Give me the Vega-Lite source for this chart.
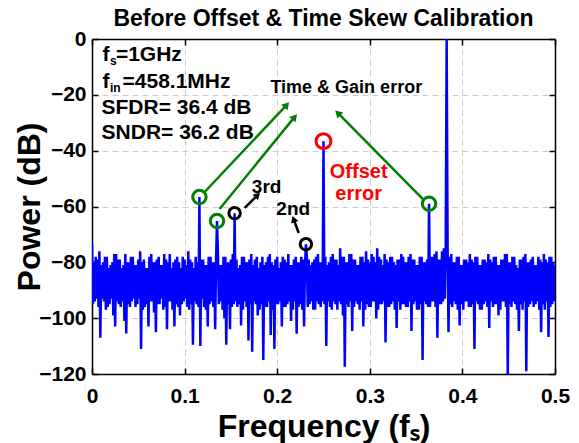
{
 "$schema": "https://vega.github.io/schema/vega-lite/v6.json",
 "width": 463, "height": 335,
 "autosize": {"type": "none"},
 "padding": {"left": 92, "top": 39, "right": 24, "bottom": 69},
 "background": "white",
 "title": {"text": "Before Offset & Time Skew Calibration", "font": "Liberation Sans", "fontSize": 23, "fontWeight": "bold", "color": "black", "anchor": "middle", "offset": -3},
 "config": {"view": {"stroke": null}, "font": "Liberation Sans"},
 "resolve": {"axis": {"x": "independent", "y": "independent"}},
 "datasets": {
  "spec": [
{"f":0.000,"p":-73},{"f":0.001,"p":-95},{"f":0.002,"p":-80},{"f":0.003,"p":-94},
{"f":0.004,"p":-78},{"f":0.005,"p":-93},{"f":0.006,"p":-79},{"f":0.007,"p":-96},
{"f":0.008,"p":-76},{"f":0.009,"p":-107},{"f":0.010,"p":-81},{"f":0.011,"p":-93},
{"f":0.012,"p":-80},{"f":0.013,"p":-94},{"f":0.014,"p":-78},{"f":0.015,"p":-97},
{"f":0.016,"p":-78},{"f":0.017,"p":-96},{"f":0.018,"p":-82},{"f":0.019,"p":-95},
{"f":0.020,"p":-81},{"f":0.021,"p":-93},{"f":0.022,"p":-80},{"f":0.023,"p":-99},
{"f":0.024,"p":-77},{"f":0.025,"p":-103},{"f":0.026,"p":-77},{"f":0.027,"p":-94},
{"f":0.028,"p":-79},{"f":0.029,"p":-95},{"f":0.030,"p":-79},{"f":0.031,"p":-96},
{"f":0.032,"p":-82},{"f":0.033,"p":-94},{"f":0.034,"p":-81},{"f":0.035,"p":-101},
{"f":0.036,"p":-77},{"f":0.037,"p":-105.5},{"f":0.038,"p":-80},{"f":0.039,"p":-95},
{"f":0.040,"p":-80},{"f":0.041,"p":-96},{"f":0.042,"p":-78},{"f":0.043,"p":-94},
{"f":0.044,"p":-78},{"f":0.045,"p":-93},{"f":0.046,"p":-81},{"f":0.047,"p":-96},
{"f":0.048,"p":-81},{"f":0.049,"p":-95},{"f":0.050,"p":-79},{"f":0.051,"p":-93},
{"f":0.052,"p":-76},{"f":0.053,"p":-111},{"f":0.054,"p":-80},{"f":0.055,"p":-97},
{"f":0.056,"p":-79},{"f":0.057,"p":-96},{"f":0.058,"p":-82},{"f":0.059,"p":-95},
{"f":0.060,"p":-82},{"f":0.061,"p":-103},{"f":0.062,"p":-78},{"f":0.063,"p":-94},
{"f":0.064,"p":-77},{"f":0.065,"p":-94},{"f":0.066,"p":-80},{"f":0.067,"p":-98},
{"f":0.068,"p":-80},{"f":0.069,"p":-105},{"f":0.070,"p":-79},{"f":0.071,"p":-95},
{"f":0.072,"p":-78},{"f":0.073,"p":-95},{"f":0.074,"p":-81},{"f":0.075,"p":-93},
{"f":0.076,"p":-81},{"f":0.077,"p":-97},{"f":0.078,"p":-77},{"f":0.079,"p":-96},
{"f":0.080,"p":-79},{"f":0.081,"p":-104},{"f":0.082,"p":-80},{"f":0.083,"p":-94},
{"f":0.084,"p":-77},{"f":0.085,"p":-94},{"f":0.086,"p":-82},{"f":0.087,"p":-97},
{"f":0.088,"p":-80},{"f":0.089,"p":-103},{"f":0.090,"p":-79},{"f":0.091,"p":-95},
{"f":0.092,"p":-78},{"f":0.093,"p":-96},{"f":0.094,"p":-80},{"f":0.095,"p":-99},
{"f":0.096,"p":-82},{"f":0.097,"p":-95},{"f":0.098,"p":-78},{"f":0.099,"p":-94},
{"f":0.100,"p":-79},{"f":0.101,"p":-93},{"f":0.102,"p":-81},{"f":0.103,"p":-96},
{"f":0.104,"p":-76},{"f":0.105,"p":-97},{"f":0.106,"p":-79},{"f":0.107,"p":-95},
{"f":0.108,"p":-80},{"f":0.109,"p":-109.5},{"f":0.110,"p":-82},{"f":0.111,"p":-94},
{"f":0.112,"p":-78},{"f":0.113,"p":-95},{"f":0.114,"p":-80},{"f":0.115,"p":-96},
{"f":0.116,"p":-56.6},{"f":0.117,"p":-110},{"f":0.118,"p":-79},{"f":0.119,"p":-93},
{"f":0.120,"p":-79},{"f":0.121,"p":-96},{"f":0.122,"p":-81},{"f":0.123,"p":-97},
{"f":0.124,"p":-81},{"f":0.125,"p":-103},{"f":0.126,"p":-78},{"f":0.127,"p":-95},
{"f":0.128,"p":-78},{"f":0.129,"p":-94},{"f":0.130,"p":-80},{"f":0.131,"p":-96},
{"f":0.132,"p":-80},{"f":0.133,"p":-104},{"f":0.134,"p":-79},{"f":0.135,"p":-65.2},
{"f":0.136,"p":-77},{"f":0.137,"p":-95},{"f":0.138,"p":-81},{"f":0.139,"p":-94},
{"f":0.140,"p":-81},{"f":0.141,"p":-97},{"f":0.142,"p":-78},{"f":0.143,"p":-100},
{"f":0.144,"p":-78},{"f":0.145,"p":-109.5},{"f":0.146,"p":-80},{"f":0.147,"p":-95},
{"f":0.148,"p":-80},{"f":0.149,"p":-104},{"f":0.150,"p":-79},{"f":0.151,"p":-96},
{"f":0.152,"p":-77},{"f":0.153,"p":-95},{"f":0.154,"p":-62.4},{"f":0.155,"p":-94},
{"f":0.156,"p":-79},{"f":0.157,"p":-96},{"f":0.158,"p":-82},{"f":0.159,"p":-95},
{"f":0.160,"p":-81},{"f":0.161,"p":-102.6},{"f":0.162,"p":-78},{"f":0.163,"p":-97},
{"f":0.164,"p":-78},{"f":0.165,"p":-94},{"f":0.166,"p":-80},{"f":0.167,"p":-96},
{"f":0.168,"p":-80},{"f":0.169,"p":-108},{"f":0.170,"p":-79},{"f":0.171,"p":-95},
{"f":0.172,"p":-77},{"f":0.173,"p":-112},{"f":0.174,"p":-81},{"f":0.175,"p":-94},
{"f":0.176,"p":-79},{"f":0.177,"p":-95},{"f":0.178,"p":-78},{"f":0.179,"p":-99},
{"f":0.180,"p":-82},{"f":0.181,"p":-97},{"f":0.182,"p":-80},{"f":0.183,"p":-95},
{"f":0.184,"p":-78},{"f":0.185,"p":-115},{"f":0.186,"p":-81},{"f":0.187,"p":-96},
{"f":0.188,"p":-80},{"f":0.189,"p":-96},{"f":0.190,"p":-78},{"f":0.191,"p":-94},
{"f":0.192,"p":-77},{"f":0.193,"p":-106},{"f":0.194,"p":-80},{"f":0.195,"p":-97},
{"f":0.196,"p":-81},{"f":0.197,"p":-111},{"f":0.198,"p":-79},{"f":0.199,"p":-95},
{"f":0.200,"p":-78},{"f":0.201,"p":-95},{"f":0.202,"p":-82},{"f":0.203,"p":-94},
{"f":0.204,"p":-80},{"f":0.205,"p":-103},{"f":0.206,"p":-78},{"f":0.207,"p":-96},
{"f":0.208,"p":-79},{"f":0.209,"p":-96},{"f":0.210,"p":-80},{"f":0.211,"p":-95},
{"f":0.212,"p":-77},{"f":0.213,"p":-94},{"f":0.214,"p":-81},{"f":0.215,"p":-101},
{"f":0.216,"p":-81},{"f":0.217,"p":-97},{"f":0.218,"p":-79},{"f":0.219,"p":-94},
{"f":0.220,"p":-78},{"f":0.221,"p":-105.6},{"f":0.222,"p":-80},{"f":0.223,"p":-96},
{"f":0.224,"p":-80},{"f":0.225,"p":-95},{"f":0.226,"p":-78},{"f":0.227,"p":-97},
{"f":0.228,"p":-79},{"f":0.229,"p":-103},{"f":0.230,"p":-81},{"f":0.231,"p":-73.5},
{"f":0.232,"p":-78},{"f":0.233,"p":-96},{"f":0.234,"p":-79},{"f":0.235,"p":-95},
{"f":0.236,"p":-81},{"f":0.237,"p":-94},{"f":0.238,"p":-80},{"f":0.239,"p":-97},
{"f":0.240,"p":-79},{"f":0.241,"p":-97},{"f":0.242,"p":-78},{"f":0.243,"p":-94},
{"f":0.244,"p":-77},{"f":0.245,"p":-95},{"f":0.246,"p":-80},{"f":0.247,"p":-96},
{"f":0.248,"p":-80},{"f":0.249,"p":-94},{"f":0.250,"p":-36.6},{"f":0.251,"p":-95},
{"f":0.252,"p":-78},{"f":0.253,"p":-110},{"f":0.254,"p":-81},{"f":0.255,"p":-94},
{"f":0.256,"p":-80},{"f":0.257,"p":-96},{"f":0.258,"p":-78},{"f":0.259,"p":-97},
{"f":0.260,"p":-77},{"f":0.261,"p":-94},{"f":0.262,"p":-79},{"f":0.263,"p":-95},
{"f":0.264,"p":-79},{"f":0.265,"p":-97},{"f":0.266,"p":-81},{"f":0.267,"p":-94},
{"f":0.268,"p":-75},{"f":0.269,"p":-95},{"f":0.270,"p":-78},{"f":0.271,"p":-99},
{"f":0.272,"p":-78},{"f":0.273,"p":-117.4},{"f":0.274,"p":-80},{"f":0.275,"p":-95},
{"f":0.276,"p":-80},{"f":0.277,"p":-96},{"f":0.278,"p":-77},{"f":0.279,"p":-94},
{"f":0.280,"p":-77},{"f":0.281,"p":-104.6},{"f":0.282,"p":-79},{"f":0.283,"p":-96},
{"f":0.284,"p":-79},{"f":0.285,"p":-94},{"f":0.286,"p":-81},{"f":0.287,"p":-95},
{"f":0.288,"p":-81},{"f":0.289,"p":-97},{"f":0.290,"p":-78},{"f":0.291,"p":-94},
{"f":0.292,"p":-78},{"f":0.293,"p":-103},{"f":0.294,"p":-80},{"f":0.295,"p":-97},
{"f":0.296,"p":-76},{"f":0.297,"p":-95},{"f":0.298,"p":-79},{"f":0.299,"p":-96},
{"f":0.300,"p":-80},{"f":0.301,"p":-96},{"f":0.302,"p":-77},{"f":0.303,"p":-94},
{"f":0.304,"p":-78},{"f":0.305,"p":-94},{"f":0.306,"p":-80},{"f":0.307,"p":-100},
{"f":0.308,"p":-75},{"f":0.309,"p":-97},{"f":0.310,"p":-78},{"f":0.311,"p":-95},
{"f":0.312,"p":-79},{"f":0.313,"p":-95},{"f":0.314,"p":-81},{"f":0.315,"p":-94},
{"f":0.316,"p":-77},{"f":0.317,"p":-108.7},{"f":0.318,"p":-79},{"f":0.319,"p":-96},
{"f":0.320,"p":-80},{"f":0.321,"p":-96},{"f":0.322,"p":-78},{"f":0.323,"p":-95},
{"f":0.324,"p":-78},{"f":0.325,"p":-94},{"f":0.326,"p":-80},{"f":0.327,"p":-97},
{"f":0.328,"p":-81},{"f":0.329,"p":-103.5},{"f":0.330,"p":-79},{"f":0.331,"p":-94},
{"f":0.332,"p":-79},{"f":0.333,"p":-97},{"f":0.334,"p":-77},{"f":0.335,"p":-95},
{"f":0.336,"p":-78},{"f":0.337,"p":-95},{"f":0.338,"p":-80},{"f":0.339,"p":-96},
{"f":0.340,"p":-80},{"f":0.341,"p":-96},{"f":0.342,"p":-78},{"f":0.343,"p":-94},
{"f":0.344,"p":-77},{"f":0.345,"p":-104.6},{"f":0.346,"p":-79},{"f":0.347,"p":-95},
{"f":0.348,"p":-79},{"f":0.349,"p":-94},{"f":0.350,"p":-81},{"f":0.351,"p":-97},
{"f":0.352,"p":-81},{"f":0.353,"p":-97},{"f":0.354,"p":-78},{"f":0.355,"p":-95},
{"f":0.356,"p":-78},{"f":0.357,"p":-115},{"f":0.358,"p":-80},{"f":0.359,"p":-94},
{"f":0.360,"p":-80},{"f":0.361,"p":-95},{"f":0.362,"p":-79},{"f":0.363,"p":-96},
{"f":0.364,"p":-59},{"f":0.365,"p":-96},{"f":0.366,"p":-78},{"f":0.367,"p":-94},
{"f":0.368,"p":-78},{"f":0.369,"p":-94},{"f":0.370,"p":-77},{"f":0.371,"p":-96},
{"f":0.372,"p":-76},{"f":0.373,"p":-107},{"f":0.374,"p":-79},{"f":0.375,"p":-95},
{"f":0.376,"p":-79},{"f":0.377,"p":-95},{"f":0.378,"p":-76},{"f":0.379,"p":-94},
{"f":0.380,"p":-75},{"f":0.381,"p":-93},{"f":0.382,"p":-74},{"f":0.383,"p":0},
{"f":0.384,"p":-73},{"f":0.385,"p":-105},{"f":0.386,"p":-78},{"f":0.387,"p":-95},
{"f":0.388,"p":-77},{"f":0.389,"p":-96},{"f":0.390,"p":-80},{"f":0.391,"p":-94},
{"f":0.392,"p":-80},{"f":0.393,"p":-95},{"f":0.394,"p":-78},{"f":0.395,"p":-97},
{"f":0.396,"p":-78},{"f":0.397,"p":-102.6},{"f":0.398,"p":-81},{"f":0.399,"p":-95},
{"f":0.400,"p":-81},{"f":0.401,"p":-97},{"f":0.402,"p":-79},{"f":0.403,"p":-94},
{"f":0.404,"p":-79},{"f":0.405,"p":-94},{"f":0.406,"p":-80},{"f":0.407,"p":-96},
{"f":0.408,"p":-77},{"f":0.409,"p":-96},{"f":0.410,"p":-79},{"f":0.411,"p":-95},
{"f":0.412,"p":-80},{"f":0.413,"p":-111},{"f":0.414,"p":-78},{"f":0.415,"p":-94},
{"f":0.416,"p":-78},{"f":0.417,"p":-95},{"f":0.418,"p":-81},{"f":0.419,"p":-97},
{"f":0.420,"p":-81},{"f":0.421,"p":-97},{"f":0.422,"p":-79},{"f":0.423,"p":-95},
{"f":0.424,"p":-79},{"f":0.425,"p":-94},{"f":0.426,"p":-80},{"f":0.427,"p":-96},
{"f":0.428,"p":-77},{"f":0.429,"p":-103.5},{"f":0.430,"p":-79},{"f":0.431,"p":-94},
{"f":0.432,"p":-80},{"f":0.433,"p":-96},{"f":0.434,"p":-78},{"f":0.435,"p":-95},
{"f":0.436,"p":-78},{"f":0.437,"p":-95},{"f":0.438,"p":-81},{"f":0.439,"p":-99},
{"f":0.440,"p":-81},{"f":0.441,"p":-97},{"f":0.442,"p":-79},{"f":0.443,"p":-94},
{"f":0.444,"p":-79},{"f":0.445,"p":-94},{"f":0.446,"p":-77},{"f":0.447,"p":-96},
{"f":0.448,"p":-77},{"f":0.449,"p":-120.5},{"f":0.450,"p":-80},{"f":0.451,"p":-95},
{"f":0.452,"p":-80},{"f":0.453,"p":-96},{"f":0.454,"p":-78},{"f":0.455,"p":-94},
{"f":0.456,"p":-78},{"f":0.457,"p":-95},{"f":0.458,"p":-81},{"f":0.459,"p":-97},
{"f":0.460,"p":-82},{"f":0.461,"p":-104.6},{"f":0.462,"p":-79},{"f":0.463,"p":-95},
{"f":0.464,"p":-79},{"f":0.465,"p":-97},{"f":0.466,"p":-78},{"f":0.467,"p":-94},
{"f":0.468,"p":-77},{"f":0.469,"p":-119},{"f":0.470,"p":-80},{"f":0.471,"p":-96},
{"f":0.472,"p":-80},{"f":0.473,"p":-95},{"f":0.474,"p":-79},{"f":0.475,"p":-94},
{"f":0.476,"p":-78},{"f":0.477,"p":-96},{"f":0.478,"p":-81},{"f":0.479,"p":-95},
{"f":0.480,"p":-81},{"f":0.481,"p":-94},{"f":0.482,"p":-78},{"f":0.483,"p":-97},
{"f":0.484,"p":-79},{"f":0.485,"p":-105},{"f":0.486,"p":-80},{"f":0.487,"p":-95},
{"f":0.488,"p":-77},{"f":0.489,"p":-97},{"f":0.490,"p":-79},{"f":0.491,"p":-94},
{"f":0.492,"p":-80},{"f":0.493,"p":-106.7},{"f":0.494,"p":-78},{"f":0.495,"p":-96},
{"f":0.496,"p":-78},{"f":0.497,"p":-95},{"f":0.498,"p":-80},{"f":0.499,"p":-94},
{"f":0.500,"p":-81}
  ],
  "circ": [
   {"f":0.116,"p":-56.6,"grp":"tg"},{"f":0.135,"p":-65.2,"grp":"tg"},{"f":0.364,"p":-59,"grp":"tg"},
   {"f":0.154,"p":-62.4,"grp":"hd"},{"f":0.231,"p":-73.5,"grp":"hd"},
   {"f":0.25,"p":-36.6,"grp":"off"}
  ],
  "arr": [
   {"id":"g1","grp":"tg","f":0.1216,"p":-54.8,"f2":0.2103,"p2":-23.6},
   {"id":"g2","grp":"tg","f":0.1378,"p":-60.9,"f2":0.2189,"p2":-27.9},
   {"id":"g3","grp":"tg","f":0.3584,"p":-57.7,"f2":0.2654,"p2":-26.5},
   {"id":"h3","grp":"hd","f":0.1649,"p":-60.5,"f2":0.1789,"p2":-55.9},
   {"id":"h2","grp":"hd","f":0.2232,"p":-69.5,"f2":0.2178,"p2":-64.5}
  ],
  "txt": [
   {"t":"f","f":0.0114,"p":-5.7,"k":"m"},
   {"t":"s","f":0.0194,"p":-7.8,"k":"s"},
   {"t":"=1GHz","f":0.0258,"p":-5.7,"k":"m"},
   {"t":"f","f":0.0114,"p":-15.4,"k":"m"},
   {"t":"in","f":0.0194,"p":-17.5,"k":"s"},
   {"t":"=458.1MHz","f":0.0330,"p":-15.4,"k":"m"},
   {"t":"SFDR= 36.4 dB","f":0.0103,"p":-24.6,"k":"m"},
   {"t":"SNDR= 36.2 dB","f":0.0103,"p":-33.8,"k":"m"},
   {"t":"Time & Gain error","f":0.2746,"p":-17.6,"k":"c"},
   {"t":"3rd","f":0.1886,"p":-53,"k":"h"},
   {"t":"2nd","f":0.2173,"p":-60.9,"k":"h"},
   {"t":"Offset","f":0.288,"p":-47.7,"k":"r"},
   {"t":"error","f":0.288,"p":-55.6,"k":"r"}
  ]
 },
 "layer": [
  {
   "data": {"name": "spec"},
   "mark": {"type": "line", "color": "#0000ff", "strokeWidth": 2.5, "clip": true, "strokeJoin": "bevel"},
   "encoding": {
    "x": {"field": "f", "type": "quantitative", "scale": {"domain": [0, 0.5], "nice": false, "zero": false},
     "axis": {"orient": "bottom", "values": [0, 0.1, 0.2, 0.3, 0.4, 0.5], "format": "~g", "title": "Frequency (fₛ)",
      "titleFont": "Liberation Sans", "titleFontSize": 32, "titleFontWeight": "bold", "titleColor": "black", "titlePadding": 5,
      "labelFont": "Liberation Sans", "labelFontSize": 21, "labelFontWeight": "bold", "labelColor": "black", "labelPadding": 17,
      "labelFlush": false, "labelOverlap": false,
      "tickSize": -6, "tickColor": "black", "tickWidth": 1.5, "domainColor": "black", "domainWidth": 1.5,
      "grid": true, "gridColor": "#cccccc", "gridDash": [6, 4], "gridWidth": 1}},
    "y": {"field": "p", "type": "quantitative", "scale": {"domain": [-120, 0], "nice": false, "zero": false},
     "axis": {"orient": "left", "values": [-120, -100, -80, -60, -40, -20, 0], "title": "Power (dB)",
      "titleFont": "Liberation Sans", "titleFontSize": 32, "titleFontWeight": "bold", "titleColor": "black", "titlePadding": -8,
      "labelFont": "Liberation Sans", "labelFontSize": 21, "labelFontWeight": "bold", "labelColor": "black", "labelPadding": 12,
      "labelFlush": false, "labelOverlap": false,
      "tickSize": -6, "tickColor": "black", "tickWidth": 1.5, "domainColor": "black", "domainWidth": 1.5,
      "grid": true, "gridColor": "#cccccc", "gridDash": [6, 4], "gridWidth": 1}}
   }
  },
  {
   "data": {"name": "circ"},
   "transform": [{"filter": {"field": "grp", "equal": "tg"}}],
   "mark": {"type": "point", "shape": "circle", "filled": false, "color": "#008000", "strokeWidth": 3, "size": 180, "opacity": 1},
   "encoding": {
    "x": {"field": "f", "type": "quantitative", "scale": {"domain": [0, 0.5], "nice": false, "zero": false},
     "axis": {"orient": "top", "values": [0, 0.1, 0.2, 0.3, 0.4, 0.5], "labels": false, "title": null, "grid": false,
      "tickSize": -6, "tickColor": "black", "tickWidth": 1.5, "domainColor": "black", "domainWidth": 1.5}},
    "y": {"field": "p", "type": "quantitative", "scale": {"domain": [-120, 0], "nice": false, "zero": false},
     "axis": {"orient": "right", "values": [-120, -100, -80, -60, -40, -20, 0], "labels": false, "title": null, "grid": false,
      "tickSize": -6, "tickColor": "black", "tickWidth": 1.5, "domainColor": "black", "domainWidth": 1.5}}
   }
  },
  {
   "data": {"name": "circ"},
   "transform": [{"filter": {"field": "grp", "equal": "hd"}}],
   "mark": {"type": "point", "shape": "circle", "filled": false, "color": "black", "strokeWidth": 3, "size": 130, "opacity": 1},
   "encoding": {
    "x": {"field": "f", "type": "quantitative", "scale": {"domain": [0, 0.5], "nice": false, "zero": false}, "axis": null},
    "y": {"field": "p", "type": "quantitative", "scale": {"domain": [-120, 0], "nice": false, "zero": false}, "axis": null}
   }
  },
  {
   "data": {"name": "circ"},
   "transform": [{"filter": {"field": "grp", "equal": "off"}}],
   "mark": {"type": "point", "shape": "circle", "filled": false, "color": "#ff0000", "strokeWidth": 3, "size": 220, "opacity": 1},
   "encoding": {
    "x": {"field": "f", "type": "quantitative", "scale": {"domain": [0, 0.5], "nice": false, "zero": false}, "axis": null},
    "y": {"field": "p", "type": "quantitative", "scale": {"domain": [-120, 0], "nice": false, "zero": false}, "axis": null}
   }
  },
  {
   "data": {"name": "arr"},
   "transform": [{"filter": {"field": "grp", "equal": "tg"}}],
   "mark": {"type": "rule", "color": "#008000", "strokeWidth": 2.5},
   "encoding": {
    "x": {"field": "f", "type": "quantitative", "scale": {"domain": [0, 0.5], "nice": false, "zero": false}, "axis": null},
    "y": {"field": "p", "type": "quantitative", "scale": {"domain": [-120, 0], "nice": false, "zero": false}, "axis": null},
    "x2": {"field": "f2"}, "y2": {"field": "p2"}
   }
  },
  {
   "data": {"name": "arr"},
   "transform": [{"filter": {"field": "grp", "equal": "hd"}}],
   "mark": {"type": "rule", "color": "black", "strokeWidth": 2.5},
   "encoding": {
    "x": {"field": "f", "type": "quantitative", "scale": {"domain": [0, 0.5], "nice": false, "zero": false}, "axis": null},
    "y": {"field": "p", "type": "quantitative", "scale": {"domain": [-120, 0], "nice": false, "zero": false}, "axis": null},
    "x2": {"field": "f2"}, "y2": {"field": "p2"}
   }
  },
  {
   "data": {"name": "arr"},
   "transform": [{"filter": {"field": "id", "oneOf": ["g1", "g2"]}}],
   "mark": {"type": "point", "shape": "triangle-up", "filled": true, "color": "#008000", "size": 70, "angle": 41, "opacity": 1},
   "encoding": {
    "x": {"field": "f2", "type": "quantitative", "scale": {"domain": [0, 0.5], "nice": false, "zero": false}, "axis": null},
    "y": {"field": "p2", "type": "quantitative", "scale": {"domain": [-120, 0], "nice": false, "zero": false}, "axis": null}
   }
  },
  {
   "data": {"name": "arr"},
   "transform": [{"filter": {"field": "id", "equal": "g3"}}],
   "mark": {"type": "point", "shape": "triangle-up", "filled": true, "color": "#008000", "size": 70, "angle": 315, "opacity": 1},
   "encoding": {
    "x": {"field": "f2", "type": "quantitative", "scale": {"domain": [0, 0.5], "nice": false, "zero": false}, "axis": null},
    "y": {"field": "p2", "type": "quantitative", "scale": {"domain": [-120, 0], "nice": false, "zero": false}, "axis": null}
   }
  },
  {
   "data": {"name": "arr"},
   "transform": [{"filter": {"field": "id", "equal": "h3"}}],
   "mark": {"type": "point", "shape": "triangle-up", "filled": true, "color": "black", "size": 60, "angle": 45, "opacity": 1},
   "encoding": {
    "x": {"field": "f2", "type": "quantitative", "scale": {"domain": [0, 0.5], "nice": false, "zero": false}, "axis": null},
    "y": {"field": "p2", "type": "quantitative", "scale": {"domain": [-120, 0], "nice": false, "zero": false}, "axis": null}
   }
  },
  {
   "data": {"name": "arr"},
   "transform": [{"filter": {"field": "id", "equal": "h2"}}],
   "mark": {"type": "point", "shape": "triangle-up", "filled": true, "color": "black", "size": 60, "angle": 340, "opacity": 1},
   "encoding": {
    "x": {"field": "f2", "type": "quantitative", "scale": {"domain": [0, 0.5], "nice": false, "zero": false}, "axis": null},
    "y": {"field": "p2", "type": "quantitative", "scale": {"domain": [-120, 0], "nice": false, "zero": false}, "axis": null}
   }
  },
  {
   "data": {"name": "txt"},
   "transform": [{"filter": {"field": "k", "equal": "m"}}],
   "mark": {"type": "text", "align": "left", "baseline": "middle", "font": "Liberation Sans", "fontSize": 21, "fontWeight": "bold", "color": "black"},
   "encoding": {
    "x": {"field": "f", "type": "quantitative", "scale": {"domain": [0, 0.5], "nice": false, "zero": false}, "axis": null},
    "y": {"field": "p", "type": "quantitative", "scale": {"domain": [-120, 0], "nice": false, "zero": false}, "axis": null},
    "text": {"field": "t"}
   }
  },
  {
   "data": {"name": "txt"},
   "transform": [{"filter": {"field": "k", "equal": "s"}}],
   "mark": {"type": "text", "align": "left", "baseline": "middle", "font": "Liberation Sans", "fontSize": 12, "fontWeight": "bold", "color": "black"},
   "encoding": {
    "x": {"field": "f", "type": "quantitative", "scale": {"domain": [0, 0.5], "nice": false, "zero": false}, "axis": null},
    "y": {"field": "p", "type": "quantitative", "scale": {"domain": [-120, 0], "nice": false, "zero": false}, "axis": null},
    "text": {"field": "t"}
   }
  },
  {
   "data": {"name": "txt"},
   "transform": [{"filter": {"field": "k", "equal": "c"}}],
   "mark": {"type": "text", "align": "center", "baseline": "middle", "font": "Liberation Sans", "fontSize": 18, "fontWeight": "bold", "color": "black"},
   "encoding": {
    "x": {"field": "f", "type": "quantitative", "scale": {"domain": [0, 0.5], "nice": false, "zero": false}, "axis": null},
    "y": {"field": "p", "type": "quantitative", "scale": {"domain": [-120, 0], "nice": false, "zero": false}, "axis": null},
    "text": {"field": "t"}
   }
  },
  {
   "data": {"name": "txt"},
   "transform": [{"filter": {"field": "k", "equal": "h"}}],
   "mark": {"type": "text", "align": "center", "baseline": "middle", "font": "Liberation Sans", "fontSize": 19, "fontWeight": "bold", "color": "black"},
   "encoding": {
    "x": {"field": "f", "type": "quantitative", "scale": {"domain": [0, 0.5], "nice": false, "zero": false}, "axis": null},
    "y": {"field": "p", "type": "quantitative", "scale": {"domain": [-120, 0], "nice": false, "zero": false}, "axis": null},
    "text": {"field": "t"}
   }
  },
  {
   "data": {"name": "txt"},
   "transform": [{"filter": {"field": "k", "equal": "r"}}],
   "mark": {"type": "text", "align": "center", "baseline": "middle", "font": "Liberation Sans", "fontSize": 20, "fontWeight": "bold", "color": "#ff0000"},
   "encoding": {
    "x": {"field": "f", "type": "quantitative", "scale": {"domain": [0, 0.5], "nice": false, "zero": false}, "axis": null},
    "y": {"field": "p", "type": "quantitative", "scale": {"domain": [-120, 0], "nice": false, "zero": false}, "axis": null},
    "text": {"field": "t"}
   }
  }
 ]
}
